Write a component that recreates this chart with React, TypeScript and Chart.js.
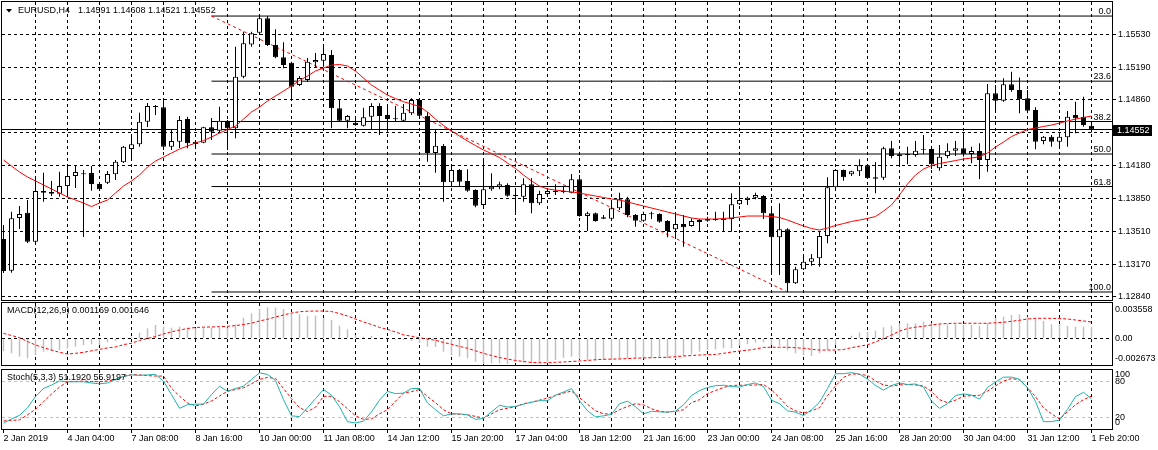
import React, { useEffect, useRef } from "react";
import { Chart, registerables } from "chart.js";

Chart.register(...registerables);

const FONT = "'Liberation Sans', Arial, sans-serif";

// ---------- DATA (H4 bars, 2 Jan 2019 20:00 .. 1 Feb 2019 20:00) ----------
const open = [
  1.13431, 1.13106, 1.13646, 1.137, 1.13403, 1.13922, 1.13895, 1.13895, 1.13973, 1.14076,
  1.14093, 1.14106, 1.13994, 1.14007, 1.14093, 1.14216, 1.14352, 1.144, 1.14632, 1.14782,
  1.14779, 1.14376, 1.14427, 1.14659, 1.14427, 1.14417, 1.14574, 1.1454, 1.14642, 1.14564,
  1.15093, 1.15424, 1.15543, 1.15691, 1.15417, 1.15291, 1.15236, 1.15008, 1.15059, 1.1524,
  1.15256, 1.15315, 1.14769, 1.14642, 1.14622, 1.14591, 1.14683, 1.14793, 1.147, 1.14667,
  1.14642, 1.14718, 1.14854, 1.14693, 1.14311, 1.14383, 1.14011, 1.14137, 1.14025, 1.13932,
  1.13779, 1.1394, 1.13966, 1.13984, 1.13881, 1.13864, 1.13991, 1.13796, 1.13891, 1.13912,
  1.13922, 1.13905, 1.14042, 1.13666, 1.13694, 1.13653, 1.13638, 1.13745, 1.13837, 1.13676,
  1.13618, 1.13684, 1.13687, 1.13615, 1.1353, 1.13584, 1.13564, 1.13605, 1.13635, 1.13625,
  1.13632, 1.13635, 1.13786, 1.1383, 1.13854, 1.13871, 1.13694, 1.13448, 1.1353, 1.12977,
  1.1312, 1.13198, 1.13233, 1.13461, 1.1396, 1.14137, 1.14093, 1.14124, 1.14185, 1.14062,
  1.14058, 1.14359, 1.14298, 1.14298, 1.14291, 1.14345, 1.14352, 1.14155, 1.14281, 1.14335,
  1.14359, 1.14301, 1.14332, 1.1424, 1.14923, 1.14847, 1.15015, 1.14956, 1.14871, 1.14752,
  1.14434, 1.14478, 1.14427, 1.14472, 1.147, 1.14683, 1.14591,
];
const high = [
  1.13574, 1.1371, 1.13769, 1.1383, 1.14055, 1.1411, 1.14025, 1.1412, 1.14171, 1.14188,
  1.14137, 1.14178, 1.14001, 1.14127, 1.1424, 1.14383, 1.14496, 1.14724, 1.14823, 1.14803,
  1.14871, 1.14547, 1.1469, 1.14683, 1.14444, 1.14581, 1.1467, 1.14785, 1.14649, 1.154,
  1.15553, 1.15553, 1.15707, 1.15714, 1.15578, 1.15445, 1.15246, 1.151, 1.15284, 1.15335,
  1.15417, 1.15366, 1.14861, 1.147, 1.1469, 1.14775, 1.1482, 1.1482, 1.14813, 1.14793,
  1.14813, 1.14871, 1.14871, 1.14731, 1.14547, 1.14403, 1.14199, 1.14147, 1.14144, 1.1394,
  1.14247, 1.14103, 1.14017, 1.14001, 1.13943, 1.14052, 1.14052, 1.13925, 1.1395, 1.13991,
  1.13976, 1.14096, 1.14086, 1.1371, 1.13702, 1.13676, 1.1383, 1.13905, 1.13864, 1.13687,
  1.1371, 1.1371, 1.13694, 1.13625, 1.13676, 1.13676, 1.13643, 1.13635, 1.13659, 1.1371,
  1.1371, 1.13899, 1.13966, 1.13864, 1.13905, 1.13881, 1.13761, 1.13796, 1.1354, 1.13147,
  1.13277, 1.13277, 1.13505, 1.14062, 1.14147, 1.14142, 1.1413, 1.14247, 1.14188, 1.14219,
  1.14376, 1.14434, 1.14325, 1.14376, 1.14434, 1.14496, 1.14376, 1.14393, 1.14411, 1.14434,
  1.14513, 1.14376, 1.14411, 1.15018, 1.15008, 1.15076, 1.15144, 1.15086, 1.14956, 1.14779,
  1.14485, 1.14496, 1.14513, 1.14741, 1.14837, 1.14888, 1.14608,
];
const low = [
  1.13082, 1.13086, 1.13533, 1.1339, 1.1339, 1.13813, 1.13871, 1.13864, 1.13864, 1.13953,
  1.13451, 1.13925, 1.13932, 1.13994, 1.14035, 1.14209, 1.1424, 1.14376, 1.14578, 1.147,
  1.14342, 1.14342, 1.14362, 1.14359, 1.14383, 1.14411, 1.14444, 1.14513, 1.14342, 1.14462,
  1.15076, 1.154, 1.15537, 1.15407, 1.15281, 1.15179, 1.14854, 1.14997, 1.15038, 1.15182,
  1.15195, 1.14564, 1.14632, 1.14564, 1.14591, 1.14583, 1.14547, 1.14496, 1.14529, 1.14632,
  1.14632, 1.147, 1.14683, 1.14222, 1.1411, 1.13813, 1.13966, 1.13966, 1.13915, 1.13755,
  1.13755, 1.13925, 1.1394, 1.13864, 1.13684, 1.13813, 1.13694, 1.13779, 1.13881, 1.13881,
  1.13899, 1.13899, 1.13659, 1.13513, 1.13608, 1.13635, 1.13635, 1.13728, 1.13653, 1.13557,
  1.13608, 1.13635, 1.13598, 1.13448, 1.13448, 1.13352, 1.13557, 1.13505, 1.13608, 1.13618,
  1.13505, 1.13505, 1.13779, 1.13779, 1.13837, 1.13635, 1.13062, 1.13062, 1.12888, 1.1297,
  1.13113, 1.13157, 1.13147, 1.13387, 1.1395, 1.14028, 1.14076, 1.14076, 1.14045, 1.13899,
  1.14035, 1.14257, 1.14188, 1.14196, 1.14273, 1.14298, 1.14147, 1.1413, 1.14257, 1.14281,
  1.14273, 1.14206, 1.14045, 1.1412, 1.14724, 1.14837, 1.14939, 1.14718, 1.14718, 1.14349,
  1.144, 1.14376, 1.14359, 1.14376, 1.14513, 1.14581, 1.14521,
];
const close = [
  1.13103, 1.13643, 1.13687, 1.13403, 1.13922, 1.13905, 1.13912, 1.13973, 1.14076, 1.14117,
  1.14103, 1.13994, 1.1394, 1.14096, 1.14222, 1.14376, 1.144, 1.14632, 1.14793, 1.14787,
  1.14376, 1.14434, 1.14649, 1.14411, 1.14403, 1.14574, 1.14529, 1.14642, 1.14564, 1.15093,
  1.15435, 1.15537, 1.15691, 1.15417, 1.15291, 1.15212, 1.1499, 1.15079, 1.15246, 1.15264,
  1.15325, 1.14769, 1.14642, 1.1469, 1.14598, 1.14677, 1.14793, 1.1469, 1.14659, 1.14656,
  1.14724, 1.14854, 1.14693, 1.14311, 1.14386, 1.14011, 1.14137, 1.14017, 1.13925, 1.13772,
  1.1394, 1.13966, 1.13991, 1.13874, 1.13871, 1.13991, 1.13796, 1.13891, 1.13922, 1.13925,
  1.13912, 1.14042, 1.13666, 1.13694, 1.13615, 1.13638, 1.13745, 1.13837, 1.13676, 1.13618,
  1.13687, 1.13687, 1.13608, 1.13513, 1.13584, 1.1355, 1.13615, 1.13625, 1.13618, 1.13632,
  1.13625, 1.13786, 1.1383, 1.13854, 1.13881, 1.13694, 1.13448, 1.1353, 1.12977, 1.1312,
  1.13198, 1.13233, 1.13461, 1.1396, 1.14137, 1.14062, 1.14124, 1.14185, 1.14052, 1.14048,
  1.14359, 1.14281, 1.14281, 1.14291, 1.14335, 1.14352, 1.14196, 1.14273, 1.14335, 1.14359,
  1.14298, 1.14332, 1.1424, 1.14923, 1.14847, 1.15015, 1.14956, 1.14861, 1.14744, 1.14427,
  1.14478, 1.14427, 1.14478, 1.14683, 1.14667, 1.14598, 1.14552,
];
const movingAverage = [
  1.1424, 1.14178, 1.14117, 1.14066, 1.14025, 1.13984, 1.13943, 1.13902, 1.13861, 1.1383,
  1.13799, 1.13763, 1.13799, 1.1383, 1.13902, 1.13973, 1.14025, 1.14086, 1.14168, 1.14229,
  1.1427, 1.14311, 1.14352, 1.14383, 1.14414, 1.14439, 1.14475, 1.14516, 1.14552, 1.14588,
  1.14659, 1.14731, 1.14782, 1.14844, 1.14895, 1.14946, 1.14997, 1.15054, 1.151, 1.15151,
  1.15182, 1.15212, 1.15218, 1.15202, 1.15151, 1.15079, 1.15008, 1.14956, 1.14905, 1.14869,
  1.14837, 1.14813, 1.14787, 1.14731, 1.14659, 1.14593, 1.14537, 1.14485, 1.14434, 1.14388,
  1.14342, 1.14306, 1.14265, 1.14209, 1.14153, 1.14086, 1.14025, 1.13973, 1.13943, 1.13932,
  1.13922, 1.13912, 1.13902, 1.13886, 1.13871, 1.13856, 1.1384, 1.1383, 1.1381, 1.13789,
  1.13769, 1.13748, 1.13728, 1.13707, 1.13687, 1.13666, 1.13646, 1.13635, 1.13635, 1.13635,
  1.13641, 1.13646, 1.13656, 1.13666, 1.13666, 1.13666, 1.13661, 1.13651, 1.13625, 1.13594,
  1.13564, 1.13538, 1.13523, 1.13543, 1.13569, 1.13589, 1.1361, 1.13625, 1.13641, 1.13661,
  1.13717, 1.13779, 1.13881, 1.13994, 1.14086, 1.14147, 1.14183, 1.14204, 1.14219, 1.14234,
  1.1425, 1.1426, 1.14273, 1.14311, 1.14373, 1.14424, 1.1448, 1.14516, 1.14552, 1.14567,
  1.14583, 1.14598, 1.14618, 1.14639, 1.14659, 1.14675, 1.1469,
];
const macdMain = [
  -0.00127, -0.0015, -0.00184, -0.002, -0.00167, -0.00134, -0.00127, -0.00117, -0.00099, -0.00083,
  -0.00066, -0.00059, -0.00066, -0.00039, -0.00026, -0.00011, 0.00017, 0.00057, 0.00102, 0.00135,
  0.00118, 0.00108, 0.00118, 0.00108, 0.00102, 0.00102, 0.00108, 0.00108, 0.00108, 0.00142,
  0.00208, 0.00252, 0.00295, 0.00313, 0.00309, 0.00295, 0.00252, 0.00242, 0.00228, 0.00228,
  0.00202, 0.00185, 0.00128, 0.00091, 0.00034, 0.00017, 0.00024, 0.00004, -0.00006, -0.00011,
  -0.00016, -0.00026, -0.00046, -0.00083, -0.00086, -0.00134, -0.00167, -0.00184, -0.002, -0.00234,
  -0.00257, -0.0025, -0.0025, -0.00257, -0.00234, -0.00244, -0.0025, -0.00244, -0.00234, -0.00217,
  -0.00194, -0.00184, -0.00207, -0.00217, -0.00224, -0.00217, -0.00217, -0.00207, -0.002, -0.00194,
  -0.002, -0.00194, -0.00194, -0.002, -0.00207, -0.00177, -0.0016, -0.00134, -0.00117, -0.0011,
  -0.00099, -0.00099, -0.00073, -0.00059, -0.00043, -0.00039, -0.00066, -0.00073, -0.00117, -0.0015,
  -0.00167, -0.00177, -0.0015, -0.00117, -0.00066, -0.00011, 0.00027, 0.00061, 0.00067, 0.00077,
  0.00112, 0.00128, 0.00152, 0.00152, 0.00152, 0.00168, 0.00152, 0.00142, 0.00142, 0.00142,
  0.00135, 0.00135, 0.00128, 0.00152, 0.00202, 0.00218, 0.00235, 0.00242, 0.00218, 0.00202,
  0.00175, 0.00142, 0.00142, 0.00125, 0.00118, 0.00118, 0.001169,
];
const macdSignal = [
  0.00051, 0.00029, 0.00007, -0.00031, -0.00066, -0.00093, -0.00117, -0.0014, -0.00157, -0.0015,
  -0.0014, -0.00125, -0.0011, -0.00096, -0.00086, -0.00063, -0.00048, -0.00021, -0.00001, 0.00019,
  0.00044, 0.00066, 0.00084, 0.00099, 0.0011, 0.00113, 0.00115, 0.00118, 0.00122, 0.00128,
  0.0014, 0.00153, 0.00175, 0.00192, 0.00215, 0.00235, 0.00255, 0.00268, 0.00273, 0.00275,
  0.00275, 0.0027, 0.0025, 0.00225, 0.00195, 0.00165, 0.0014, 0.0011, 0.00091, 0.00064,
  0.00036, 0.00022, 0.00006, -0.00006, -0.00019, -0.00041, -0.00059, -0.00081, -0.00099, -0.00125,
  -0.0015, -0.00172, -0.00192, -0.00207, -0.00222, -0.00232, -0.00242, -0.00244, -0.00244, -0.0024,
  -0.00237, -0.00232, -0.00227, -0.00222, -0.00214, -0.0021, -0.00208, -0.00207, -0.00203, -0.00199,
  -0.00196, -0.00194, -0.00192, -0.0019, -0.00184, -0.00177, -0.00172, -0.00167, -0.00164, -0.00161,
  -0.0015, -0.00137, -0.00127, -0.00119, -0.00107, -0.00091, -0.00089, -0.00089, -0.00089, -0.00094,
  -0.00099, -0.00109, -0.00117, -0.00117, -0.00117, -0.00112, -0.00093, -0.00079, -0.00064, -0.00036,
  -0.00001, 0.00034, 0.00074, 0.00099, 0.00113, 0.00122, 0.00135, 0.00145, 0.0015, 0.00152,
  0.00152, 0.00152, 0.00152, 0.00152, 0.00157, 0.00162, 0.00172, 0.00182, 0.00195, 0.00202,
  0.00202, 0.00202, 0.00199, 0.00195, 0.00185, 0.00175, 0.001646,
];
const stochMain = [
  9.8, 17.1, 23.1, 36.0, 54.9, 68.6, 74.6, 81.4, 80.1, 80.1,
  80.1, 78.0, 76.6, 78.0, 84.0, 89.1, 91.7, 90.9, 91.7, 92.6,
  81.1, 58.3, 35.1, 41.1, 42.0, 42.3, 58.3, 72.5, 63.9, 68.6,
  72.5, 84.0, 95.1, 92.6, 82.3, 49.7, 22.3, 21.1, 36.0, 51.4,
  66.9, 57.4, 37.7, 12.5, 10.3, 13.2, 29.1, 48.9, 63.9, 60.0,
  60.9, 68.6, 68.6, 44.1, 32.6, 22.3, 25.7, 25.7, 24.0, 16.3,
  18.0, 29.1, 40.3, 37.2, 38.2, 42.0, 45.4, 48.0, 48.0, 57.4,
  62.6, 68.6, 48.0, 30.9, 20.6, 22.3, 24.9, 42.9, 47.1, 37.7,
  25.7, 30.0, 29.1, 28.6, 30.3, 41.1, 56.6, 65.1, 70.3, 73.4,
  74.2, 72.0, 71.1, 75.4, 78.0, 72.0, 48.9, 42.9, 30.9, 28.6,
  22.8, 32.6, 45.4, 68.6, 93.8, 93.8, 95.5, 92.9, 84.9, 73.7,
  66.0, 73.7, 78.0, 75.4, 76.3, 71.1, 47.1, 35.1, 42.9, 56.6,
  59.5, 57.4, 50.6, 70.3, 79.7, 87.9, 87.9, 84.3, 69.8, 46.8,
  12.5, 12.5, 15.1, 33.4, 54.9, 62.2, 51.2,
];
const stochSignal = [
  13.7, 14.6, 15.4, 24.0, 33.4, 46.3, 59.1, 71.1, 80.1, 80.6,
  81.1, 80.6, 80.1, 81.4, 83.5, 89.1, 92.2, 91.7, 90.5, 89.7,
  89.7, 69.1, 55.7, 44.1, 39.4, 42.0, 47.5, 55.9, 63.9, 66.9,
  69.8, 76.5, 84.0, 87.4, 85.7, 68.6, 51.4, 36.0, 29.7, 36.9,
  55.4, 55.4, 46.3, 34.3, 22.3, 16.3, 17.1, 25.7, 32.6, 47.1,
  60.9, 63.4, 66.9, 54.9, 44.6, 32.6, 25.7, 24.9, 24.0, 21.4,
  18.3, 25.7, 32.6, 35.1, 37.7, 42.9, 45.4, 48.9, 52.3, 56.6,
  60.9, 64.3, 53.1, 42.0, 30.9, 25.7, 25.2, 32.6, 38.2, 42.9,
  41.1, 34.3, 30.0, 28.6, 30.0, 32.6, 44.6, 49.7, 60.0, 65.1,
  70.3, 73.7, 74.2, 74.2, 74.6, 75.4, 66.0, 53.1, 38.2, 30.9,
  26.9, 30.9, 36.0, 56.6, 72.9, 87.4, 93.4, 92.6, 90.9, 81.4,
  74.6, 72.9, 74.6, 75.4, 74.6, 72.9, 63.4, 49.7, 44.6, 48.9,
  55.4, 56.6, 57.1, 64.3, 72.9, 81.1, 85.7, 83.1, 70.3, 54.9,
  36.0, 25.7, 17.1, 29.1, 41.1, 49.7, 55.9,
];
// one label every 8 bars (bar 0, 8, 16, ...)
const timeLabels = [
  "2 Jan 2019", "4 Jan 04:00", "7 Jan 08:00", "8 Jan 16:00", "10 Jan 00:00", "11 Jan 08:00",
  "14 Jan 12:00", "15 Jan 20:00", "17 Jan 04:00", "18 Jan 12:00", "21 Jan 16:00", "23 Jan 00:00",
  "24 Jan 08:00", "25 Jan 16:00", "28 Jan 20:00", "30 Jan 04:00", "31 Jan 12:00", "1 Feb 20:00",
];
const priceTicks = [1.1553, 1.1519, 1.1486, 1.1452, 1.1418, 1.1385, 1.1351, 1.1317, 1.1284];
const fibPrices = [1.15714, 1.15047, 1.14634, 1.14301, 1.13968, 1.12888];
const fibLabels = ["0.0", "23.6", "38.2", "50.0", "61.8", "100.0"];
const fibStartBar = 26;
const fibEndBar = 98;
const bidPrice = 1.14552;
const symbolText = "EURUSD,H4";
const ohlcText = "1.14591 1.14608 1.14521 1.14552";
const macdTitle = "MACD(12,26,9) 0.001169 0.001646";
const stochTitle = "Stoch(5,3,3) 51.1920 55.9197";
const macdMax = 0.003558;
const macdMin = -0.002673;
const priceMax = 1.15858;
const priceMin = 1.12806;

// ---------- LAYOUT ----------
const W = 1158;
const AXIS_W = 46;
const X_MIN = -0.1875;
const X_MAX = 138.5625;
const gridBars: number[] = [];
for (let k = 0; k <= 136; k += 4) gridBars.push(k);
const idx = open.map((_, i) => i);
const f9 = `9px ${FONT}`;

function zeroPad(s: any) {
  s.paddingTop = 0;
  s.paddingBottom = 0;
  s.paddingLeft = 0;
  s.paddingRight = 0;
}

function xScale(showLabels: boolean): any {
  return {
    type: "linear",
    min: X_MIN,
    max: X_MAX,
    offset: false,
    bounds: "data",
    afterBuildTicks: (s: any) => {
      s.ticks = gridBars.map((v) => ({ value: v }));
    },
    afterFit: (s: any) => {
      s.height = showLabels ? 21 : 0;
      zeroPad(s);
    },
    grid: {
      offset: false,
      color: (c: any) => (c.tick && c.tick.value === 0 ? "rgba(0,0,0,0)" : "#000"),
      lineWidth: 1,
      drawTicks: showLabels,
      tickLength: 4,
      tickColor: (c: any) => (c.index % 2 === 0 ? "#000" : "rgba(0,0,0,0)"),
      tickBorderDash: [],
    },
    border: { display: false, dash: [3, 3] },
    ticks: showLabels
      ? {
          display: true,
          autoSkip: false,
          maxRotation: 0,
          minRotation: 0,
          align: "start",
          padding: 0,
          color: "#000",
          font: { family: FONT, size: 9 },
          callback: (v: any) => {
            const k = Math.round(v);
            return k % 8 === 0 ? timeLabels[k / 8] ?? "" : "";
          },
        }
      : { display: false },
  };
}

function frame(chart: any) {
  const { ctx, chartArea: a } = chart;
  ctx.save();
  ctx.strokeStyle = "#000";
  ctx.lineWidth = 1;
  ctx.setLineDash([]);
  ctx.strokeRect(a.left - 0.5, a.top - 0.5, a.right - a.left + 1, a.bottom - a.top + 1);
  ctx.restore();
}

const mainPlugin = {
  id: "mainDecor",
  afterDraw(chart: any) {
    frame(chart);
    const ctx = chart.ctx;
    const ys = chart.scales.y;
    ctx.save();
    ctx.font = f9;
    ctx.fillStyle = "#000";
    // fibonacci level captions
    ctx.textAlign = "right";
    ctx.textBaseline = "bottom";
    fibPrices.forEach((p, k) => {
      ctx.fillText(fibLabels[k], 1111, Math.round(ys.getPixelForValue(p)));
    });
    // header
    ctx.beginPath();
    ctx.moveTo(6, 9);
    ctx.lineTo(12, 9);
    ctx.lineTo(9, 12.5);
    ctx.closePath();
    ctx.fill();
    ctx.textAlign = "left";
    ctx.textBaseline = "middle";
    ctx.fillText(symbolText, 18, 11);
    ctx.fillText(ohlcText, 78, 11);
    // current price box
    const py = ys.getPixelForValue(bidPrice);
    ctx.fillStyle = "#000";
    ctx.fillRect(1113, Math.round(py) - 5, 39, 11);
    ctx.fillStyle = "#fff";
    ctx.fillText(bidPrice.toFixed(5), 1117, Math.round(py) + 0.5);
    ctx.restore();
  },
};

const macdPlugin = {
  id: "macdDecor",
  afterDraw(chart: any) {
    frame(chart);
    const ctx = chart.ctx;
    const a = chart.chartArea;
    const ys = chart.scales.y;
    ctx.save();
    ctx.font = f9;
    ctx.fillStyle = "#000";
    ctx.textAlign = "left";
    ctx.textBaseline = "middle";
    ctx.fillText(macdTitle, 7, a.top + 8);
    ctx.fillText(macdMax.toFixed(6), 1115, a.top + 7);
    ctx.fillText("0.00", 1115, ys.getPixelForValue(0));
    ctx.fillText(macdMin.toFixed(6), 1115, a.bottom - 6);
    ctx.restore();
  },
};

const stochPlugin = {
  id: "stochDecor",
  afterDraw(chart: any) {
    frame(chart);
    const ctx = chart.ctx;
    const a = chart.chartArea;
    const ys = chart.scales.y;
    ctx.save();
    ctx.font = f9;
    ctx.fillStyle = "#000";
    ctx.textAlign = "left";
    ctx.textBaseline = "middle";
    ctx.fillText(stochTitle, 7, a.top + 8);
    ctx.fillText("100", 1115, a.top + 5);
    ctx.fillText("80", 1115, ys.getPixelForValue(80));
    ctx.fillText("20", 1115, ys.getPixelForValue(20));
    ctx.fillText("0", 1115, a.bottom - 6.5);
    ctx.restore();
  },
};

const baseOptions = (padTop: number, padBottom: number) => ({
  animation: false,
  responsive: false,
  maintainAspectRatio: false,
  events: [],
  plugins: { legend: { display: false }, tooltip: { enabled: false } },
  layout: { padding: { left: 2, right: 0, top: padTop, bottom: padBottom } },
});

function rightAxis(extra: any): any {
  return {
    type: "linear",
    position: "right",
    bounds: "data",
    afterFit: (s: any) => {
      s.width = AXIS_W;
      zeroPad(s);
    },
    ...extra,
  };
}

function mainConfig(): any {
  const hLine = (y: number, x0: number, color: string, order: number) => ({
    type: "line",
    data: [
      { x: x0, y },
      { x: X_MAX, y },
    ],
    borderColor: color,
    borderWidth: 1,
    pointRadius: 0,
    order,
  });
  return {
    type: "bar",
    data: {
      datasets: [
        {
          type: "line",
          data: [
            { x: fibStartBar, y: fibPrices[0] },
            { x: fibEndBar, y: fibPrices[fibPrices.length - 1] },
          ],
          borderColor: "#ff0000",
          borderWidth: 1,
          borderDash: [3, 3],
          pointRadius: 0,
          order: 6,
        },
        ...fibPrices.map((p) => hLine(p, fibStartBar, "#000", 7)),
        hLine(bidPrice, X_MIN, "#000", 7),
        {
          type: "bar",
          data: idx.map((i) => ({ x: i, y: [low[i], high[i]] })),
          backgroundColor: "#000",
          borderWidth: 0,
          barThickness: 1,
          grouped: false,
          inflateAmount: 0,
          order: 4,
        },
        {
          type: "bar",
          data: idx.map((i) => ({ x: i, y: [open[i], close[i]] })),
          backgroundColor: idx.map((i) => (close[i] >= open[i] ? "#fff" : "#000")),
          borderColor: "#000",
          borderWidth: 1,
          borderSkipped: false,
          barThickness: 5,
          minBarLength: 1,
          grouped: false,
          inflateAmount: 0,
          order: 3,
        },
        {
          type: "line",
          data: idx.map((i) => ({ x: i, y: movingAverage[i] })),
          borderColor: "#ff0000",
          borderWidth: 1,
          pointRadius: 0,
          order: 1,
        },
      ],
    },
    options: {
      ...baseOptions(2, 1),
      scales: {
        x: xScale(false),
        y: rightAxis({
          min: priceMin,
          max: priceMax,
          afterBuildTicks: (s: any) => {
            s.ticks = priceTicks.map((v) => ({ value: v }));
          },
          grid: { color: "#000", drawTicks: true, tickLength: 4, tickColor: "#000", tickBorderDash: [] },
          border: { display: false, dash: [3, 3] },
          ticks: {
            color: "#000",
            padding: 2,
            autoSkip: false,
            font: { family: FONT, size: 9 },
            callback: (v: any) => (Math.abs(v - 1.1452) < 1e-7 ? "" : Number(v).toFixed(5)),
          },
        }),
      },
    },
    plugins: [mainPlugin],
  };
}

function macdConfig(): any {
  return {
    type: "bar",
    data: {
      datasets: [
        {
          type: "bar",
          data: idx.map((i) => ({ x: i, y: macdMain[i] })),
          backgroundColor: "#c0c0c0",
          borderWidth: 0,
          barThickness: 1.5,
          grouped: false,
          inflateAmount: 0,
          order: 2,
        },
        {
          type: "line",
          data: idx.map((i) => ({ x: i, y: macdSignal[i] })),
          borderColor: "#ff0000",
          borderWidth: 1,
          borderDash: [3, 2],
          pointRadius: 0,
          order: 1,
        },
      ],
    },
    options: {
      ...baseOptions(2, 2),
      scales: {
        x: xScale(false),
        y: rightAxis({
          min: macdMin,
          max: macdMax,
          afterBuildTicks: (s: any) => {
            s.ticks = [{ value: 0 }];
          },
          grid: { color: "#000", drawTicks: false },
          border: { display: false, dash: [3, 3] },
          ticks: { display: false },
        }),
      },
    },
    plugins: [macdPlugin],
  };
}

function stochConfig(): any {
  return {
    type: "line",
    data: {
      datasets: [
        {
          data: idx.map((i) => ({ x: i, y: stochSignal[i] })),
          borderColor: "#ff0000",
          borderWidth: 1,
          borderDash: [3, 2],
          pointRadius: 0,
          order: 2,
        },
        {
          data: idx.map((i) => ({ x: i, y: stochMain[i] })),
          borderColor: "#20b2aa",
          borderWidth: 1,
          pointRadius: 0,
          order: 1,
        },
      ],
    },
    options: {
      ...baseOptions(3, 0),
      scales: {
        x: xScale(true),
        y: rightAxis({
          min: 0,
          max: 100,
          afterBuildTicks: (s: any) => {
            s.ticks = [{ value: 20 }, { value: 80 }];
          },
          grid: { color: "#c0c0c0", drawTicks: false },
          border: { display: false, dash: [3, 3] },
          ticks: { display: false },
        }),
      },
    },
    plugins: [stochPlugin],
  };
}

export default function App() {
  const r1 = useRef<HTMLCanvasElement>(null);
  const r2 = useRef<HTMLCanvasElement>(null);
  const r3 = useRef<HTMLCanvasElement>(null);
  useEffect(() => {
    const c1 = new Chart(r1.current as HTMLCanvasElement, mainConfig());
    const c2 = new Chart(r2.current as HTMLCanvasElement, macdConfig());
    const c3 = new Chart(r3.current as HTMLCanvasElement, stochConfig());
    return () => {
      c1.destroy();
      c2.destroy();
      c3.destroy();
    };
  }, []);
  return (
    <div
      style={{
        position: "fixed",
        left: 0,
        top: 0,
        width: W,
        height: 450,
        background: "#fff",
        overflow: "hidden",
      }}
    >
      <canvas ref={r1} width={W} height={301} style={{ position: "absolute", left: 0, top: 0 }} />
      <canvas ref={r2} width={W} height={66} style={{ position: "absolute", left: 0, top: 301 }} />
      <canvas ref={r3} width={W} height={83} style={{ position: "absolute", left: 0, top: 367 }} />
    </div>
  );
}
